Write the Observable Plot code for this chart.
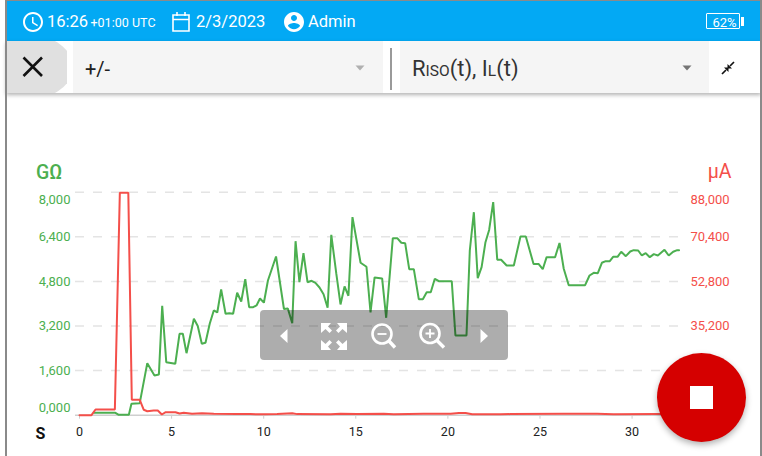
<!DOCTYPE html>
<html>
<head>
<meta charset="utf-8">
<script src="https://cdn.jsdelivr.net/npm/d3@7"></script>
<script src="https://cdn.jsdelivr.net/npm/@observablehq/plot@0.6"></script>
<style>
html,body{margin:0;padding:0;background:#fff;width:762px;height:456px;overflow:hidden;font-family:Roboto,sans-serif;}
#app{position:relative;width:762px;height:456px;overflow:hidden;background:#fff;}
#app>*{position:absolute;}
.t{white-space:nowrap;line-height:1;}
#chart{left:0;top:93px;}
#chart svg{display:block;}
</style>
</head>
<body>
<div id="app">
  <div id="chart"></div>
  <div style="left:5px;top:0;width:1.5px;height:456px;background:#8a8a8a;z-index:6"></div>
  <div style="left:760px;top:0;width:1.5px;height:456px;background:#8a8a8a;z-index:6"></div>
  <div style="left:5px;top:0;width:756px;height:1px;background:#8a8a8a;z-index:6"></div>
  <div style="left:6px;top:1px;width:755px;height:40px;background:#03a9f4"></div>
  <div style="left:6px;top:41px;width:755px;height:52px;background:#fff;box-shadow:0 2px 4px rgba(0,0,0,.3)"></div>
  <div style="left:6px;top:41px;width:61px;height:52px;overflow:hidden"><div style="position:absolute;left:-27px;top:-7px;width:94px;height:66px;border-radius:50%;background:#e0e0e0"></div></div>
  <svg style="left:22px;top:56px" width="22" height="22" viewBox="0 0 22 22"><path d="M1.5 1.5L20 20M20 1.5L1.5 20" stroke="#111" stroke-width="2.6" fill="none"/></svg>
  <div style="left:73px;top:41px;width:310px;height:52px;background:#f5f5f5"></div>
  <div style="left:390px;top:48px;width:2px;height:42px;background:#9a9a9a"></div>
  <div style="left:400px;top:41px;width:309px;height:52px;background:#f5f5f5"></div>
  <div class="t" style="left:85px;top:59px;font-size:20px;color:#212121">+/-</div>
  <div class="t" style="left:412px;top:58px;font-size:22px;color:#333">R<span style="font-size:15.5px">ISO</span>(t), I<span style="font-size:15.5px">L</span>(t)</div>
  <svg style="left:354.5px;top:64.5px" width="10" height="6"><path d="M0.5 0.5H9.5L5 5.5Z" fill="#b0b0b0"/></svg>
  <svg style="left:681.5px;top:64.5px" width="10" height="6"><path d="M0.5 0.5H9.5L5 5.5Z" fill="#757575"/></svg>
  <svg style="left:721px;top:60.5px" width="14" height="14" viewBox="0 0 14 14"><path d="M1 13L5 9M13 1L9 5" stroke="#111" stroke-width="1.7"/><path d="M3 6.5H7.5V11ZM11 7.5H6.5V3Z" fill="#111"/></svg>

  <svg style="left:20.5px;top:9.7px" width="24" height="24" viewBox="0 0 24 24"><path fill="#fff" d="M11.99 2C6.47 2 2 6.48 2 12s4.47 10 9.99 10C17.52 22 22 17.52 22 12S17.52 2 11.99 2zM12 20c-4.42 0-8-3.58-8-8s3.58-8 8-8 8 3.58 8 8-3.58 8-8 8zm.5-13H11v6l5.25 3.15.75-1.23-4.5-2.67z"/></svg>
  <div class="t" style="left:47px;top:14px;font-size:16.5px;color:#fff">16:26</div>
  <div class="t" style="left:90.5px;top:17px;font-size:12.5px;color:#fff">+01:00</div>
  <div class="t" style="left:132px;top:17px;font-size:12.5px;color:#fff">UTC</div>
  <svg style="left:171px;top:11px" width="20" height="21" viewBox="0 0 20 21"><path d="M2 4H18V20H2ZM2 8.5H18M6 1V5M14 1V5" fill="none" stroke="#fff" stroke-width="1.6"/></svg>
  <div class="t" style="left:196px;top:14px;font-size:16.5px;color:#fff">2/3/2023</div>
  <svg style="left:281.5px;top:9.5px" width="24" height="24" viewBox="0 0 24 24"><path fill="#fff" d="M12 2C6.48 2 2 6.48 2 12s4.48 10 10 10 10-4.48 10-10S17.52 2 12 2zm0 3c1.66 0 3 1.34 3 3s-1.34 3-3 3-3-1.34-3-3 1.34-3 3-3zm0 14.2c-2.5 0-4.71-1.28-6-3.22.03-1.99 4-3.08 6-3.08 1.99 0 5.97 1.09 6 3.08-1.29 1.94-3.5 3.22-6 3.22z"/></svg>
  <div class="t" style="left:308px;top:14px;font-size:16.5px;color:#fff">Admin</div>
  <div style="left:706px;top:12.5px;width:32px;height:14.5px;border:1.5px solid #fff;border-radius:1px"></div>
  <div style="left:741px;top:17px;width:3px;height:9px;background:#fff"></div>
  <div class="t" style="left:712.5px;top:15.5px;font-size:13px;color:#fff">62%</div>

  <div style="left:259.5px;top:310px;width:248.5px;height:50px;border-radius:4px;background:rgba(0,0,0,.32);z-index:3"></div>
  <svg style="left:259px;top:310px;z-index:4" width="250" height="50" viewBox="0 0 250 50">
    <path d="M21 26L28.5 19V33Z" fill="#fff"/>
    <path d="M221.5 19V33L229 26Z" fill="#fff"/>
    <g fill="#fff" stroke="none">
      <path d="M62 13H72L69 16.5L73 20.5L70.5 23L66.5 19L62 23Z"/>
      <path d="M88 13H78L81 16.5L77 20.5L79.5 23L83.5 19L88 23Z"/>
      <path d="M62 40H72L69 36.5L73 32.5L70.5 30L66.5 34L62 30Z"/>
      <path d="M88 40H78L81 36.5L77 32.5L79.5 30L83.5 34L88 30Z"/>
    </g>
    <g fill="none" stroke="#fff" stroke-width="2.6">
      <circle cx="123" cy="24" r="9.5"/><path d="M130 31L136 37.5" stroke-width="3.4"/><path d="M118.5 24H127.5" stroke-width="1.8"/>
      <circle cx="171" cy="23.5" r="9.5"/><path d="M178 30.5L185 37.5" stroke-width="3.4"/><path d="M166.5 23.5H175.5M171 19V28" stroke-width="1.8"/>
    </g>
  </svg>
  <div style="left:657px;top:353px;width:89px;height:89px;border-radius:50%;background:#d50000;box-shadow:0 3px 6px rgba(0,0,0,.3);z-index:5"></div>
  <div style="left:690px;top:386px;width:23px;height:23px;background:#fff;z-index:5"></div>
</div>
<script>
const greenT = [0.78,1.95,2.13,2.68,2.82,3.27,3.68,4.07,4.31,4.49,4.71,5.20,5.43,5.61,5.81,6.21,6.42,6.64,6.84,7.07,7.29,7.48,7.69,7.93,8.13,8.34,8.56,8.78,9.00,9.21,9.43,9.61,9.80,10.01,10.23,10.67,11.10,11.31,11.55,11.73,11.94,12.16,12.38,12.60,12.81,13.03,13.25,13.47,13.67,13.94,14.17,14.39,14.60,14.82,15.26,15.58,15.80,16.02,16.43,16.65,17.01,17.25,17.47,17.68,17.90,18.15,18.42,18.64,18.85,19.07,19.29,19.51,20.21,20.41,21.01,21.19,21.41,21.62,21.83,22.04,22.24,22.46,22.68,22.89,23.19,23.58,23.94,24.23,24.65,24.92,25.15,25.36,25.82,26.06,26.29,26.56,27.45,27.69,27.92,28.14,28.36,28.57,28.79,28.97,29.21,29.41,29.66,29.90,30.09,30.33,30.53,30.74,30.96,31.18,31.40,31.76,31.99,32.23,32.45,32.55];
const riso = [86,86,14,14,409,431,1866,1424,1460,3925,1902,1844,2921,2921,2225,3459,3200,2562,2598,3279,3757,3685,4510,3638,3660,3638,4392,4080,4880,3875,3875,3936,4187,4036,4833,5694,3810,3828,3301,6243,4772,5812,4772,4822,4750,4582,4341,3853,6473,5084,3972,4618,4284,7104,5468,5325,3685,4941,4905,3495,6351,6351,6186,6171,5238,5238,4162,4162,4413,4413,4894,4808,4808,2860,2860,5909,7283,4915,5310,6207,6645,7642,5576,5576,5371,5371,6412,6412,5425,5425,5238,5669,5669,6179,5253,4664,4664,5012,5109,5095,5468,5526,5526,5683,5683,5863,5705,5873,5920,5909,5730,5813,5669,5777,5730,5934,5730,5863,5920,5920];
const redT = [0,0.65,0.87,1.92,2.19,2.65,2.84,3.27,3.49,3.68,4.03,4.25,4.47,4.68,5.21,5.43,5.66,6.11,6.65,7.29,8.5,9.28,10.01,10.73,11.55,11.82,13.63,14.17,15.08,16.52,17.06,18.68,20.15,20.6,20.96,21.32,22.86,23.4,26.29,28.1,29,31.3,32.55];
const leak = [0,0,2250,2250,87800,87800,6080,6080,2130,1580,1860,1860,280,1180,1180,670,950,550,790,550,470,430,400,430,790,430,400,550,430,550,400,600,550,870,870,400,400,430,550,600,400,430,430];
const xTicks = [0,5,10,15,20,25,30];
const gridTicks = [1600,3200,4800,6400,8000];
const midTicks = [1600,3200,4800,6400];
const rightRatio = 11;
const green = "#4caf50", red = "#f44f4a";

const greenData = greenT.map((t,i)=>({t, v:riso[i]}));
const redData = redT.map((t,i)=>({t, v:leak[i]/rightRatio}));
const fmt = d3.format("05,");
const axisFont = {fontSize:13, fontWeight:400};

function leftAxis(ticks, dy){
  return Plot.axisY({anchor:"left",ticks,tickSize:0,tickPadding:5,dy,color:green,tickFormat:fmt,label:null,...axisFont});
}
function rightAxis(ticks, dy){
  return Plot.axisY({anchor:"right",ticks,tickSize:0,tickPadding:5,dy,color:red,tickFormat:d=>fmt(d*rightRatio),label:null,...axisFont});
}

const plot = Plot.plot({
  width:762,
  height:363,
  marginLeft:75,
  marginRight:77,
  marginTop:98.7,
  marginBottom:41.3,
  style:{fontFamily:"Roboto, sans-serif",background:"transparent",overflow:"visible"},
  x:{domain:[0,32.9],range:[79,685]},
  y:{domain:[0,8000]},
  marks:[
    Plot.ruleY(gridTicks,{stroke:"#e4e4e4",strokeWidth:1.5,strokeDasharray:"9,9"}),
    Plot.ruleY([0],{stroke:"#cfcfcf",strokeWidth:1.5}),
    Plot.axisX({ticks:xTicks,tickSize:4,tickPadding:7.5,stroke:"#cfcfcf",color:"#222",fontSize:12.5,fontWeight:400,label:null,tickFormat:d=>String(d)}),
    leftAxis(midTicks,0),
    leftAxis([8000],7.6),
    leftAxis([0],-7.6),
    rightAxis(midTicks,0),
    rightAxis([8000],7.6),
    rightAxis([0],-7.6),
    Plot.line(greenData,{x:"t",y:"v",stroke:green,strokeWidth:2,strokeLinejoin:"miter",curve:"linear"}),
    Plot.line(redData,{x:"t",y:"v",stroke:red,strokeWidth:2,strokeLinejoin:"miter",curve:"linear"}),
    Plot.text(["GΩ"],{frameAnchor:"top-left",dx:-39.5,dy:-27,text:d=>d,fill:green,fontSize:19.5,fontWeight:500,textAnchor:"start",lineAnchor:"top"}),
    Plot.text(["µA"],{frameAnchor:"top-right",dx:46,dy:-28,text:d=>d,fill:red,fontSize:19.5,fontWeight:400,textAnchor:"end",lineAnchor:"top"}),
    Plot.text(["S"],{frameAnchor:"bottom-left",dx:-40,dy:18.5,text:d=>d,fill:"#111",fontSize:16,fontWeight:700,textAnchor:"start",lineAnchor:"middle"})
  ]
});
document.getElementById("chart").appendChild(plot);
</script>
</body>
</html>
